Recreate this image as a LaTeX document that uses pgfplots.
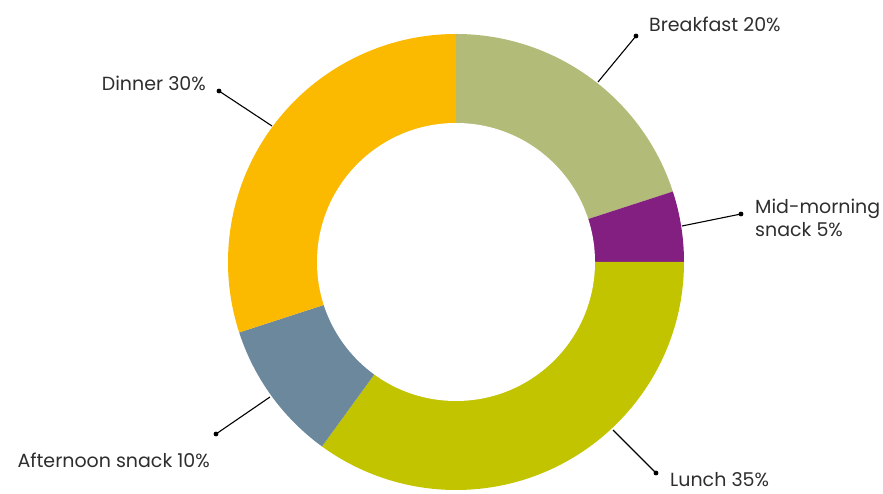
\documentclass[border=0pt]{standalone}
\usepackage{pgfplots}
\pgfplotsset{compat=1.18}
\usepackage{fontspec}
\setmainfont{Poppins}
\definecolor{cB}{HTML}{B2BB78}
\definecolor{cM}{HTML}{841F82}
\definecolor{cL}{HTML}{C3C400}
\definecolor{cA}{HTML}{6C889C}
\definecolor{cD}{HTML}{FBB900}
\definecolor{txt}{HTML}{2E2E2E}
\begin{document}
\begin{tikzpicture}
\useasboundingbox (0,0) rectangle (883pt,494pt);
\begin{axis}[at={(0,0)}, anchor=south west, width=883pt, height=494pt,
  scale only axis, hide axis, clip=false,
  xmin=0, xmax=883, ymin=0, ymax=494]
% values (percent): Breakfast 20, Mid-morning snack 5, Lunch 35, Afternoon snack 10, Dinner 30
\def\cum{0}
\foreach \v/\c in {20/cB, 5/cM, 35/cL, 10/cA, 30/cD}{
  \pgfmathsetmacro{\aA}{90-3.6*\cum}
  \pgfmathsetmacro{\aB}{90-3.6*(\cum+\v)}
  \edef\temp{\noexpand\fill[\c] (axis cs:456,232) -- ++(\aA:228pt) arc[start angle=\aA, end angle=\aB, radius=228pt] -- cycle;}
  \temp
  \pgfmathsetmacro{\newcum}{\cum+\v}
  \xdef\cum{\newcum}
}
\fill[white] (axis cs:456,232) circle[radius=139pt];
% leader lines
\draw[line width=1.1pt] (axis cs:598,412) -- (axis cs:636,458);
\fill (axis cs:636,458) circle[radius=2.4pt];
\draw[line width=1.1pt] (axis cs:682,268) -- (axis cs:741,280);
\fill (axis cs:741,280) circle[radius=2.4pt];
\draw[line width=1.1pt] (axis cs:613,64) -- (axis cs:656,21);
\fill (axis cs:656,21) circle[radius=2.4pt];
\draw[line width=1.1pt] (axis cs:270,97) -- (axis cs:216,60);
\fill (axis cs:216,60) circle[radius=2.4pt];
\draw[line width=1.1pt] (axis cs:272,368) -- (axis cs:219,403);
\fill (axis cs:219,403) circle[radius=2.4pt];
% labels
\tikzset{lab/.style={font=\fontsize{19}{24}\selectfont, text=txt, inner sep=0pt}}
\node[lab, anchor=base west] at (axis cs:649,462) {Breakfast 20\%};
\node[lab, anchor=base west] at (axis cs:755,280) {Mid-morning};
\node[lab, anchor=base west] at (axis cs:755,257) {snack 5\%};
\node[lab, anchor=base west] at (axis cs:670,7) {Lunch 35\%};
\node[lab, anchor=base east] at (axis cs:210,26) {Afternoon snack 10\%};
\node[lab, anchor=base east] at (axis cs:206,403) {Dinner 30\%};
\end{axis}
\end{tikzpicture}
\end{document}
